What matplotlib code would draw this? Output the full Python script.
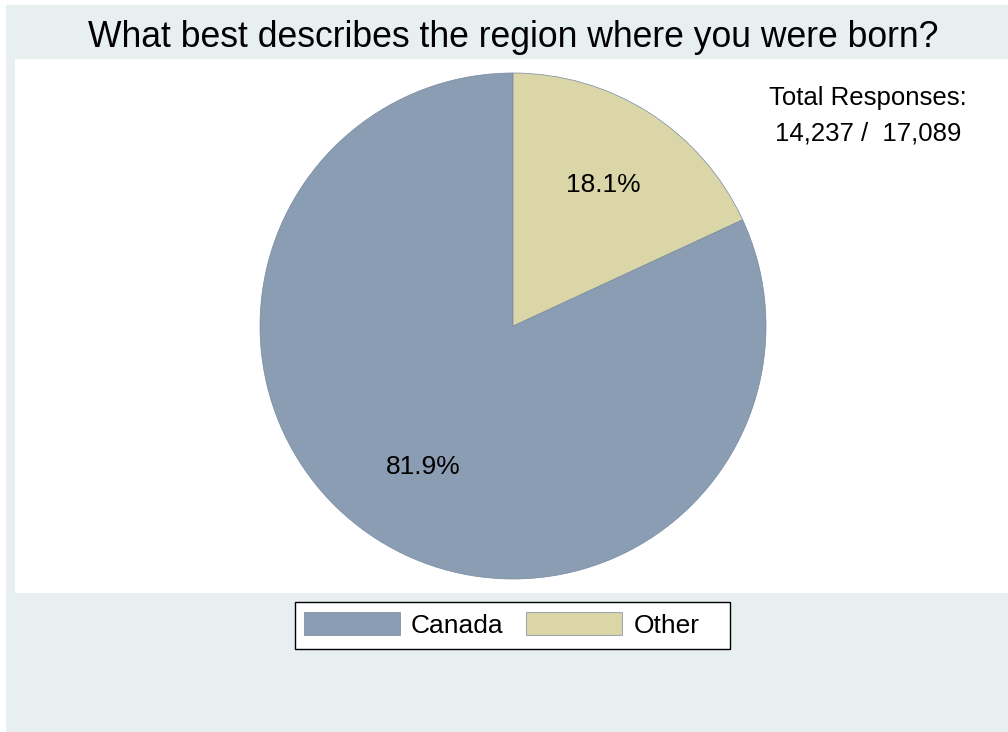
import matplotlib
matplotlib.use("Agg")
import matplotlib.pyplot as plt

plt.rcParams["font.family"] = ["Liberation Sans", "DejaVu Sans"]

labels = ["Canada", "Other"]
shares = [81.9, 18.1]
colors = ["#8A9DB2", "#DAD6A8"]
answered = "14,237"
total = "17,089"

W, H = 1008, 732
fig = plt.figure(figsize=(W / 100, H / 100), dpi=100, facecolor="white")

# graph region (light blue), white plot region and the legend box, in pixel units
bg = fig.add_axes([0, 0, 1, 1], zorder=-1)
bg.set_xlim(0, W)
bg.set_ylim(H, 0)
bg.axis("off")
bg.add_patch(plt.Rectangle((6, 5), W - 6, H - 5, facecolor="#E8EFF1", edgecolor="none"))
bg.add_patch(plt.Rectangle((15, 59), W - 15, 593 - 59, facecolor="white", edgecolor="none"))
bg.add_patch(plt.Rectangle((295, 602), 435, 47, facecolor="white", edgecolor="black",
                           linewidth=1.0))

# pie centered at (513, 326) px with radius 253 px
cx, cy, r = 513, 326, 253
ax = fig.add_axes([(cx - r) / W, 1 - (cy + r) / H, 2 * r / W, 2 * r / H])
ax.set_facecolor("none")
wedges, _, autotexts = ax.pie(shares, colors=colors, startangle=90, counterclock=True,
                              autopct="%.1f%%", pctdistance=0.66,
                              wedgeprops=dict(edgecolor="#7689A0", linewidth=0.5),
                              textprops=dict(fontsize=19, color="black"))
ax.set_xlim(-1, 1)
ax.set_ylim(-1, 1)
ax.axis("off")

fig.text(cx / W, 1 - 47 / H, "What best describes the region where you were born?",
         ha="center", va="baseline", fontsize=25.6)
fig.text(868 / W, 1 - 98 / H, "Total Responses:", ha="center", va="center", fontsize=18.5)
fig.text(868 / W, 1 - 133 / H, f"{answered} /  {total}", ha="center", va="center", fontsize=18.5)

leg = fig.legend(wedges, labels, loc="center", bbox_to_anchor=(501.5 / W, 1 - 625 / H),
                 ncol=2, fontsize=19, frameon=False,
                 handlelength=3.64, handleheight=0.95, handletextpad=0.42,
                 columnspacing=0.87, borderpad=0.3, borderaxespad=0)

fig.savefig("out.png", dpi=100, facecolor=fig.get_facecolor())
